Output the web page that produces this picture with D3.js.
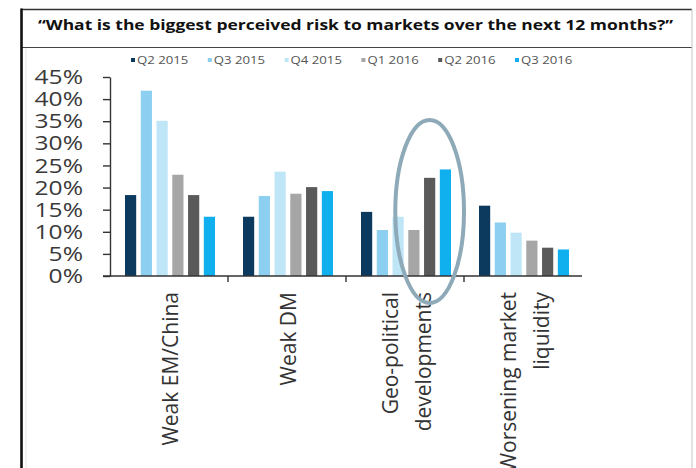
<!DOCTYPE html>
<html><head><meta charset="utf-8">
<script src="https://cdn.jsdelivr.net/npm/d3@7"></script>
<style>
  body { margin: 0; background: #fff; }
  svg { display: block; }
  text { font-family: "Open Sans", "Noto Sans", sans-serif; }
</style>
</head>
<body>
<svg id="chart" width="696" height="468"></svg>
<script>
// Survey question and answers
const title = "\u201CWhat is the biggest perceived risk to markets over the next 12 months?\u201D";
const categories = ["Weak EM/China", "Weak DM", "Geo-political developments", "Worsening market liquidity"];
const categoryLines = [["Weak EM/China"], ["Weak DM"], ["Geo-political", "developments"], ["Worsening market", "liquidity"]];
const series = ["Q2 2015", "Q3 2015", "Q4 2015", "Q1 2016", "Q2 2016", "Q3 2016"];
const seriesColors = ["#0b3a5e", "#8ccff0", "#bfe6f7", "#a6a6a6", "#5a5a5a", "#10b0ee"];

// share of respondents (%), one array per survey quarter, in category order
const q2_2015 = [18.3, 13.4, 14.5, 15.9];
const q3_2015 = [41.9, 18.1, 10.4, 12.1];
const q4_2015 = [35.1, 23.6, 13.4, 9.8];
const q1_2016 = [22.9, 18.6, 10.4, 8.0];
const q2_2016 = [18.3, 20.1, 22.2, 6.4];
const q3_2016 = [13.4, 19.2, 24.1, 6.0];
const seriesValues = [q2_2015, q3_2015, q4_2015, q1_2016, q2_2016, q3_2016];

const yTicks = [0, 5, 10, 15, 20, 25, 30, 35, 40, 45];
const yTickLabels = ["0%", "5%", "10%", "15%", "20%", "25%", "30%", "35%", "40%", "45%"];

// highlighted answer and survey quarters
const highlightCategory = "Geo-political development".concat("s");
const highlightSeries = ["Q1 2016", "Q3 2016"];
const highlightRange = [-6.1, 35.3];

const svg = d3.select("#chart");
const stretch = 1.2;

// frame
const frame = svg.append("g");
frame.append("line").attr("x1", 21).attr("x2", 692).attr("y1", 9.5).attr("y2", 9.5)
  .attr("stroke", "#333").attr("stroke-width", 1.5);
frame.append("line").attr("x1", 21).attr("x2", 692).attr("y1", 47.5).attr("y2", 47.5)
  .attr("stroke", "#444").attr("stroke-width", 1.2);
frame.append("line").attr("x1", 692).attr("x2", 692).attr("y1", 9).attr("y2", 468)
  .attr("stroke", "#c4c4c4").attr("stroke-width", 1);
frame.append("line").attr("x1", 26).attr("x2", 26).attr("y1", 48).attr("y2", 468)
  .attr("stroke", "#e6e6e6").attr("stroke-width", 1);
frame.append("line").attr("x1", 21.5).attr("x2", 21.5).attr("y1", 8.5).attr("y2", 468)
  .attr("stroke", "#111").attr("stroke-width", 2.6);

// title
svg.append("text")
  .attr("x", 38).attr("y", 30)
  .attr("font-size", 14.5).attr("font-weight", 700).attr("fill", "#111")
  .attr("textLength", 635).attr("lengthAdjust", "spacingAndGlyphs")
  .text(title);

// scales
const y = d3.scaleLinear().domain([0, 45]).range([276, 77]);
const x0 = d3.scaleBand().domain(categories).range([110, 582]);
const x1 = d3.scaleBand().domain(series).range([15, 105]).paddingInner(0.29);
const color = d3.scaleOrdinal().domain(series).range(seriesColors);

// legend
const legendX = d3.scalePoint().domain(series).range([133, 517]);
const legend = svg.append("g").selectAll("g").data(series).join("g")
  .attr("transform", d => `translate(${legendX(d)},60)`);
legend.append("rect").attr("x", -2).attr("y", -2).attr("width", 4).attr("height", 4)
  .attr("fill", d => color(d));
legend.append("text")
  .attr("transform", `translate(4,0) scale(${stretch},1)`)
  .attr("dy", "0.35em").attr("font-size", 11).attr("fill", "#555")
  .text(d => d);

// bars
const groups = svg.append("g").selectAll("g").data(categories).join("g")
  .attr("transform", d => `translate(${x0(d)},0)`);
groups.selectAll("rect")
  .data((c, ci) => series.map((s, si) => ({ s, v: seriesValues[si][ci] })))
  .join("rect")
  .attr("x", d => x1(d.s))
  .attr("width", x1.bandwidth())
  .attr("y", d => y(d.v))
  .attr("height", d => y(0) - y(d.v))
  .attr("fill", d => color(d.s));

// y axis
const yAxis = svg.append("g").attr("transform", "translate(110,0)")
  .call(d3.axisLeft(y).tickValues(yTicks).tickFormat((d, i) => yTickLabels[i]).tickSize(7).tickSizeOuter(0));
yAxis.select(".domain").attr("stroke", "#333").attr("stroke-width", 1.4);
yAxis.selectAll(".tick line").attr("stroke", "#333").attr("stroke-width", 1.4);
yAxis.selectAll(".tick text")
  .attr("x", 0)
  .attr("transform", `translate(-27,0) scale(${stretch},1)`)
  .attr("font-family", "'Open Sans', sans-serif")
  .attr("font-size", 20.5).attr("fill", "#3a3a3a");

// x axis: baseline with ticks between answer groups
const xAxis = svg.append("g");
xAxis.append("line").attr("x1", 103).attr("x2", x0.range()[1]).attr("y1", y(0)).attr("y2", y(0))
  .attr("stroke", "#333").attr("stroke-width", 1.6);
xAxis.selectAll(".sep").data(categories.slice(1)).join("line")
  .attr("x1", d => x0(d)).attr("x2", d => x0(d))
  .attr("y1", y(0)).attr("y2", y(0) + 6)
  .attr("stroke", "#333").attr("stroke-width", 1.4);

// category labels, rotated
const labels = svg.append("g").selectAll("g").data(categories).join("g")
  .attr("transform", d => `translate(${x0(d) + x0.bandwidth() / 2 + 2},292) rotate(-90)`);
labels.each(function (d, i) {
  const lines = categoryLines[i];
  d3.select(this).selectAll("text").data(lines).join("text")
    .attr("x", 0)
    .attr("y", (l, j) => (j - (lines.length - 1) / 2) * 32.5)
    .attr("dy", "0.35em")
    .attr("text-anchor", "end")
    .attr("font-size", 21).attr("fill", "#333")
    .text(l => l);
});

// highlight ellipse around recent quarters of the geo-political answer
const hx0 = x0(highlightCategory) + x1(highlightSeries[0]);
const hx1 = x0(highlightCategory) + x1(highlightSeries[1]) + x1.bandwidth();
svg.append("ellipse")
  .attr("cx", (hx0 + hx1) / 2)
  .attr("cy", (y(highlightRange[0]) + y(highlightRange[1])) / 2)
  .attr("rx", (hx1 - hx0) / 2 + 13)
  .attr("ry", (y(highlightRange[0]) - y(highlightRange[1])) / 2)
  .attr("fill", "none").attr("stroke", "#8eaab9").attr("stroke-width", 4);
</script>
</body></html>
